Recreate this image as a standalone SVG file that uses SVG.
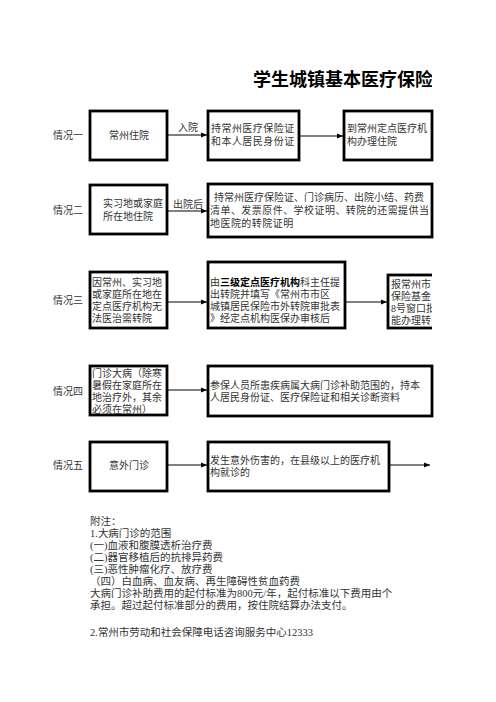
<svg xmlns="http://www.w3.org/2000/svg" width="496" height="702" viewBox="0 0 496 702">
<style>
text{font-family:"Liberation Serif","Noto Sans CJK SC",serif;font-size:10px;fill:#333}
.title{font-family:"Noto Sans CJK SC",sans-serif;font-size:18px;font-weight:bold;fill:#000}
.box{fill:#fff;stroke:#000;stroke-width:2.8}
.ln{stroke:#000;stroke-width:1;fill:none;marker-end:url(#ah)}
.b{font-weight:bold;fill:#000}
.w{letter-spacing:0.45px}
.n{font-size:10.5px}
</style>
<defs>
<marker id="ah" viewBox="0 0 6 6" refX="6" refY="3" markerWidth="6" markerHeight="6" markerUnits="userSpaceOnUse" orient="auto">
<path d="M0,0.5 L6,3 L0,5.5 z" fill="#000"/>
</marker>
<clipPath id="cl"><rect x="0" y="0" width="432" height="702"/></clipPath>
</defs>
<rect width="496" height="702" fill="#fff"/>
<text class="title" x="253" y="86" clip-path="url(#cl)">学生城镇基本医疗保险</text>

<g id="labels">
<text x="53" y="139">情况一</text>
<text x="53" y="214">情况二</text>
<text x="53" y="304">情况三</text>
<text x="53" y="395">情况四</text>
<text x="53" y="469">情况五</text>
</g>

<g id="connectors">
<line class="ln" x1="168" y1="135" x2="207" y2="135"/>
<text x="178" y="131">入院</text>
<line class="ln" x1="300" y1="136" x2="343" y2="136"/>
<line class="ln" x1="168" y1="211" x2="207" y2="211"/>
<text x="173" y="208">出院后</text>
<line class="ln" x1="168" y1="302" x2="207" y2="302"/>
<line class="ln" x1="346" y1="302" x2="387" y2="302"/>
<line class="ln" x1="168" y1="390" x2="207" y2="390"/>
<line class="ln" x1="168" y1="465" x2="207" y2="465"/>
<line class="ln" x1="390" y1="465" x2="430" y2="465"/>
</g>

<g id="r1b1"><rect class="box" x="90" y="111" width="77" height="49"/><text x="129" y="139" text-anchor="middle">常州住院</text></g>
<g id="r1b2"><rect class="box" x="208" y="111" width="91" height="49"/><text class="w" x="211" y="132">持常州医疗保险证</text><text class="w" x="211" y="145">和本人居民身份证</text></g>
<g id="r1b3"><rect class="box" x="344" y="111" width="88" height="49"/><text x="347" y="132">到常州定点医疗机</text><text x="347" y="145">构办理住院</text></g>

<g id="r2b1"><rect class="box" x="90" y="185" width="77" height="49"/><text x="103" y="207">实习地或家庭</text><text x="103" y="220">所在地住院</text></g>
<g id="r2b2"><rect class="box" x="208" y="184" width="224" height="53"/><text x="214" y="201">持常州医疗保险证、门诊病历、出院小结、药费</text><text class="w" x="210" y="214">清单、发票原件、学校证明、转院的还需提供当</text><text class="w" x="210" y="227">地医院的转院证明</text></g>

<g id="r3b1"><rect class="box" x="90" y="272" width="77" height="56"/><text x="92" y="286">因常州、实习地</text><text x="92" y="298">或家庭所在地在</text><text x="92" y="310">定点医疗机构无</text><text x="92" y="322">法医治需转院</text></g>
<g id="r3b2"><rect class="box" x="208" y="262" width="137" height="66"/><text x="210" y="286">由<tspan class="b">三级定点医疗机构</tspan>科主任提</text><text x="210" y="298">出转院并填写《常州市市区</text><text x="210" y="310">城镇居民保险市外转院审批表</text><text x="210" y="322">》经定点机构医保办审核后</text></g>
<g id="r3b3" clip-path="url(#cl)"><rect class="box" x="388" y="275" width="80" height="53"/><text x="391" y="288">报常州市</text><text x="391" y="300">保险基金</text><text x="391" y="312">8号窗口批</text><text x="391" y="324">能办理转</text></g>

<g id="r4b1"><rect class="box" x="90" y="366" width="77" height="49"/><text x="92" y="377">门诊大病（除寒</text><text x="92" y="389">暑假在家庭所在</text><text x="92" y="401">地治疗外，其余</text><text x="92" y="413">必须在常州）</text></g>
<g id="r4b2"><rect class="box" x="208" y="366" width="224" height="50"/><text x="210" y="389">参保人员所患疾病属大病门诊补助范围的，持本</text><text x="210" y="401">人居民身份证、医疗保险证和相关诊断资料</text></g>

<g id="r5b1"><rect class="box" x="90" y="442" width="77" height="49"/><text x="129" y="469" text-anchor="middle">意外门诊</text></g>
<g id="r5b2"><rect class="box" x="208" y="442" width="181" height="49"/><text x="210" y="464">发生意外伤害的，在县级以上的医疗机</text><text x="210" y="476">构就诊的</text></g>

<g id="notes" class="n">
<text class="n" x="90" y="525">附注：</text>
<text class="n" x="90" y="537">1.大病门诊的范围</text>
<text class="n" x="90" y="549">(一)血液和腹膜透析治疗费</text>
<text class="n" x="90" y="561">(二)器官移植后的抗排异药费</text>
<text class="n" x="90" y="573">(三)恶性肿瘤化疗、放疗费</text>
<text class="n" x="90" y="585">（四）白血病、血友病、再生障碍性贫血药费</text>
<text class="n" x="90" y="597">大病门诊补助费用的起付标准为800元/年，起付标准以下费用由个</text>
<text class="n" x="90" y="609">承担。超过起付标准部分的费用，按住院结算办法支付。</text>
<text class="n" x="90" y="636">2.常州市劳动和社会保障电话咨询服务中心12333</text>
</g>
</svg>
